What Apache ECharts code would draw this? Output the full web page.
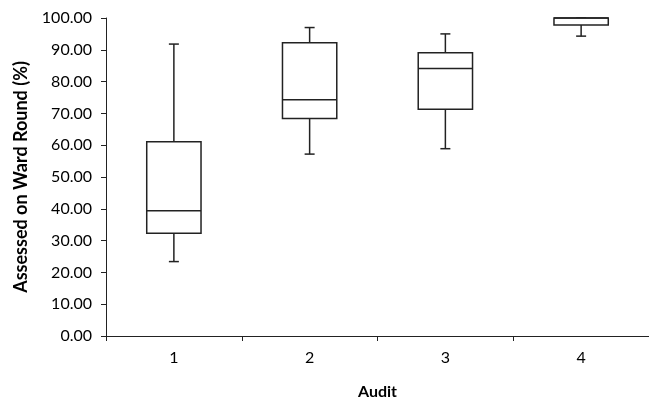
<!DOCTYPE html>
<html>
<head>
<meta charset="UTF-8">
<title>Audit boxplot</title>
<script src="https://cdn.jsdelivr.net/npm/echarts@6/dist/echarts.min.js"></script>
<style>
  html, body { margin: 0; padding: 0; background: #fff; }
  #main { width: 649px; height: 401px; }
</style>
</head>
<body>
<div id="main"></div>
<script>
// audit rounds
var audits = ['1', '2', '3', '4'];
// five-number summaries
var minVals    = [23.4, 57.2, 58.9, 94.3];
var q1Vals     = [32.3, 68.4, 71.3, 97.8];
var medianVals = [39.4, 74.3, 84.1, 100.0];
var q3Vals     = [61.1, 92.2, 89.1, 100.0];
var maxVals    = [91.8, 97.0, 95.0, 100.0];

var rows = audits.map(function (a, i) {
  return [i, minVals[i], q1Vals[i], medianVals[i], q3Vals[i], maxVals[i]];
});

var font = 'Lato, "Open Sans", sans-serif';
var ink = '#222';

var myChart = echarts.init(document.getElementById('main'));

// box with short whisker caps (Excel style)
function renderBox(params, api) {
  var x = api.value(0);
  var pMin = api.coord([x, api.value(1)]);
  var pQ1 = api.coord([x, api.value(2)]);
  var pMed = api.coord([x, api.value(3)]);
  var pQ3 = api.coord([x, api.value(4)]);
  var pMax = api.coord([x, api.value(5)]);
  var bw = api.size([1, 0])[0] * 0.4;
  var cap = 5;
  var cx = pMed[0];
  var st = { stroke: ink, lineWidth: 1.5, fill: null };
  return {
    type: 'group',
    children: [
      { type: 'line', shape: { x1: cx, y1: pQ3[1], x2: cx, y2: pMax[1] }, style: st },
      { type: 'line', shape: { x1: cx - cap, y1: pMax[1], x2: cx + cap, y2: pMax[1] }, style: st },
      { type: 'line', shape: { x1: cx, y1: pQ1[1], x2: cx, y2: pMin[1] }, style: st },
      { type: 'line', shape: { x1: cx - cap, y1: pMin[1], x2: cx + cap, y2: pMin[1] }, style: st },
      { type: 'rect', shape: { x: cx - bw / 2, y: pQ3[1], width: bw, height: pQ1[1] - pQ3[1] },
        style: { stroke: ink, lineWidth: 1.5, fill: '#fff' } },
      { type: 'line', shape: { x1: cx - bw / 2, y1: pMed[1], x2: cx + bw / 2, y2: pMed[1] }, style: st }
    ]
  };
}

myChart.setOption({
  animation: false,
  backgroundColor: '#fff',
  grid: { left: 106, right: 0, top: 18, bottom: 65, outerBoundsMode: 'none' },
  xAxis: {
    type: 'category',
    data: audits,
    name: 'Audit',
    nameLocation: 'middle',
    nameGap: 48,
    nameTextStyle: { fontFamily: font, fontWeight: 'bold', fontSize: 16, color: '#000' },
    axisLine: { lineStyle: { color: ink, width: 1 } },
    axisTick: { show: true, length: 5, lineStyle: { color: ink } },
    axisLabel: { fontFamily: font, fontSize: 16, color: '#000', margin: 14 },
    splitLine: { show: false }
  },
  yAxis: {
    type: 'value',
    min: 0,
    max: 100,
    interval: 10,
    name: 'Assessed on Ward Round (%)',
    nameLocation: 'middle',
    nameGap: 76,
    nameTextStyle: { fontFamily: font, fontWeight: 'bold', fontSize: 18, color: '#000' },
    axisLine: { show: true, lineStyle: { color: ink, width: 1 } },
    axisTick: { show: true, length: 5, lineStyle: { color: ink } },
    axisLabel: {
      fontFamily: font, fontSize: 16, color: '#000', margin: 14,
      formatter: function (v) { return v.toFixed(2); }
    },
    splitLine: { show: false }
  },
  series: [{
    type: 'custom',
    renderItem: renderBox,
    encode: { x: 0, y: [1, 2, 3, 4, 5] },
    data: rows
  }]
});
</script>
</body>
</html>
